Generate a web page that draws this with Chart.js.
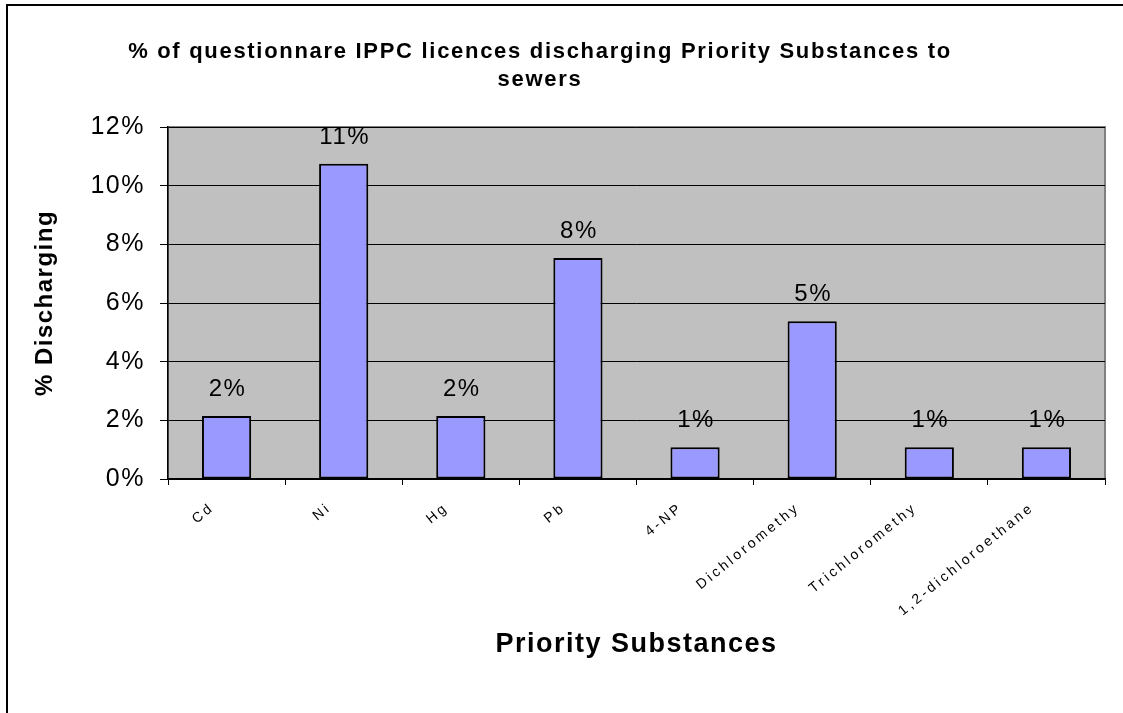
<!DOCTYPE html>
<html lang="en">
<head>
<meta charset="UTF-8">
<title>Priority Substances to sewers</title>
<style>
    body, html {
        margin: 0;
        padding: 0;
        background: #fff;
        overflow: hidden;
    }
    .frame {
        position: absolute;
        left: 6px;
        top: 4px;
        width: 1130px;
        height: 730px;
        border: 2px solid #000;
        box-sizing: border-box;
    }
    .chart-box {
        position: absolute;
        left: 0;
        top: 0;
        width: 1123px;
        height: 713px;
    }
</style>
</head>
<body>
<div class="frame"></div>
<div class="chart-box">
    <canvas id="myChart"></canvas>
</div>

<script src="https://cdn.jsdelivr.net/npm/chart.js"></script>
<script>
// substances on the x axis
const substances = ['Cd', 'Ni', 'Hg', 'Pb', '4-NP', 'Dichloromethy', 'Trichloromethy', '1,2-dichloroethane'];
// % of licences discharging
const discharging = [2.15, 10.75, 2.15, 7.53, 1.08, 5.38, 1.08, 1.08];
const yTicks = [0, 2, 4, 6, 8, 10, 12];
const titleLines = ['% of questionnare IPPC licences discharging Priority Substances to', 'sewers'];

const FONT = "'Liberation Sans', Arial, sans-serif";
const SPACING = '1.5px';

// the old excel output is wide-set, canvas state gets reset on resize so set it every time
const letterSpacing = {
    id: 'letterSpacing',
    beforeLayout(chart) { chart.ctx.letterSpacing = SPACING; },
    beforeDraw(chart) { chart.ctx.letterSpacing = SPACING; }
};

// grey plot area + border, drawn under the bars
const plotBackground = {
    id: 'plotBackground',
    beforeDraw(chart) {
        const { ctx, chartArea: a } = chart;
        ctx.save();
        ctx.fillStyle = '#c0c0c0';
        ctx.fillRect(a.left, a.top, a.right - a.left, a.bottom - a.top);
        ctx.strokeStyle = '#808080';
        ctx.lineWidth = 2;
        ctx.strokeRect(a.left, a.top, a.right - a.left, a.bottom - a.top);
        ctx.restore();
    }
};

// percent labels above bars, slanted category labels, chart title
const textLayer = {
    id: 'textLayer',
    afterDraw(chart) {
        const ctx = chart.ctx;
        const meta = chart.getDatasetMeta(0);
        const xScale = chart.scales.x;
        ctx.save();
        ctx.fillStyle = '#000';

        ctx.letterSpacing = '1.5px';
        ctx.font = '24px ' + FONT;
        ctx.textAlign = 'center';
        ctx.textBaseline = 'alphabetic';
        meta.data.forEach((bar, i) => {
            const v = chart.data.datasets[0].data[i];
            ctx.fillText(Math.round(v) + '%', bar.x + 1, bar.y - 20);
        });

        ctx.letterSpacing = '3px';
        ctx.font = '14px ' + FONT;
        ctx.textAlign = 'right';
        ctx.textBaseline = 'middle';
        substances.forEach((lab, i) => {
            const x = xScale.getPixelForTick(i);
            ctx.save();
            ctx.translate(x - 14, xScale.top + 27);
            ctx.rotate(-39 * Math.PI / 180);
            ctx.fillText(lab, 0, 0);
            ctx.restore();
        });

        ctx.letterSpacing = '1.7px';
        ctx.font = 'bold 22px ' + FONT;
        ctx.textAlign = 'center';
        titleLines.forEach((line, i) => {
            ctx.fillText(line, 540, 52 + i * 28);
        });
        ctx.restore();
    }
};

const ctx = document.getElementById('myChart').getContext('2d');
new Chart(ctx, {
    type: 'bar',
    data: {
        labels: substances,
        datasets: [{
            data: discharging,
            backgroundColor: '#9999ff',
            borderColor: '#000',
            borderWidth: 2,
            borderSkipped: false,
            barPercentage: 0.42,
            categoryPercentage: 1
        }]
    },
    options: {
        responsive: true,
        maintainAspectRatio: false,
        animation: false,
        layout: {
            padding: { left: 0, right: 18, top: 127, bottom: 0 }
        },
        plugins: {
            legend: { display: false },
            tooltip: { enabled: false },
            title: { display: false }
        },
        scales: {
            x: {
                afterFit: scale => { scale.height = 234; },
                grid: {
                    display: true,
                    drawOnChartArea: false,
                    drawTicks: true,
                    tickLength: 6,
                    color: '#000',
                    offset: true
                },
                border: { color: '#000', width: 1.5 },
                ticks: {
                    display: false,
                    autoSkip: false
                },
                title: {
                    display: true,
                    text: 'Priority Substances',
                    color: '#000',
                    font: { family: FONT, size: 27, weight: 'bold' },
                    padding: { top: 0, bottom: 52 }
                }
            },
            y: {
                min: 0,
                max: 12,
                afterFit: scale => { scale.width = 168; },
                afterBuildTicks: scale => {
                    scale.ticks = yTicks.map(v => ({ value: v }));
                },
                grid: {
                    color: '#000',
                    lineWidth: 1,
                    tickLength: 8
                },
                border: { color: '#000', width: 1.5 },
                ticks: {
                    padding: 15,
                    color: '#000',
                    font: { family: FONT, size: 25 },
                    callback: v => v + '%'
                },
                title: {
                    display: true,
                    text: '% Discharging',
                    color: '#000',
                    font: { family: FONT, size: 24, weight: 'bold' },
                    padding: { top: 31, bottom: 0 }
                }
            }
        }
    },
    plugins: [letterSpacing, plotBackground, textLayer]
});
</script>
</body>
</html>
